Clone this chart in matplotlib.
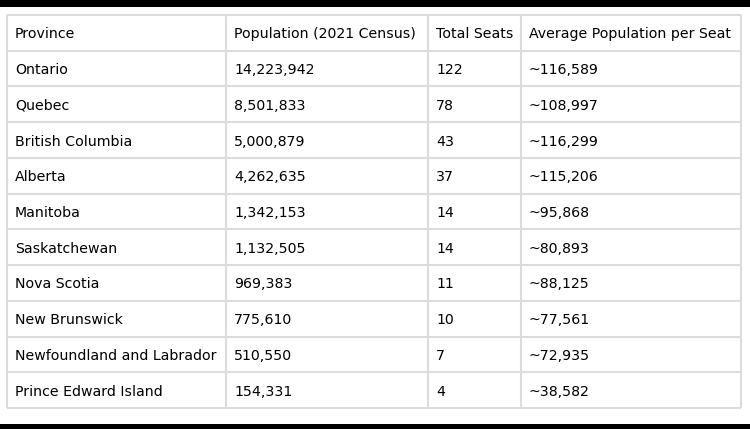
import matplotlib
matplotlib.use('Agg')
import matplotlib.pyplot as plt

headers = ["Province", "Population (2021 Census)", "Total Seats", "Average Population per Seat"]
provinces = ["Ontario", "Quebec", "British Columbia", "Alberta", "Manitoba", "Saskatchewan",
             "Nova Scotia", "New Brunswick", "Newfoundland and Labrador", "Prince Edward Island"]
population = ["14,223,942", "8,501,833", "5,000,879", "4,262,635", "1,342,153", "1,132,505",
              "969,383", "775,610", "510,550", "154,331"]
seats = ["122", "78", "43", "37", "14", "14", "11", "10", "7", "4"]
avg_per_seat = ["~116,589", "~108,997", "~116,299", "~115,206", "~95,868", "~80,893",
                "~88,125", "~77,561", "~72,935", "~38,582"]

W, H = 750, 429
col_edges = [7, 226, 428, 521, 741]
top, bottom = 15, 408
n_rows = len(provinces) + 1
row_h = (bottom - top) / n_rows
line_col = '#dcdcdc'

fig = plt.figure(figsize=(W / 100, H / 100), dpi=100)
ax = fig.add_axes([0, 0, 1, 1])
ax.set_xlim(0, W)
ax.set_ylim(H, 0)
ax.axis('off')

# black bars top and bottom
ax.axhspan(0, 7, color='black', lw=0)
ax.axhspan(424, H, color='black', lw=0)

# grid
for i in range(n_rows + 1):
    y = top + i * row_h
    ax.plot([col_edges[0], col_edges[-1]], [y, y], color=line_col, lw=1.5, solid_capstyle='butt')
for x in col_edges:
    ax.plot([x, x], [top, bottom], color=line_col, lw=1.5, solid_capstyle='butt')

rows = [headers] + [list(r) for r in zip(provinces, population, seats, avg_per_seat)]
for i, row in enumerate(rows):
    yc = top + (i + 0.5) * row_h
    for j, val in enumerate(row):
        ax.text(col_edges[j] + 8, yc, val, ha='left', va='center_baseline',
                fontsize=10.2, color='black', family='DejaVu Sans')

fig.savefig('out.png', dpi=100, facecolor='white')
